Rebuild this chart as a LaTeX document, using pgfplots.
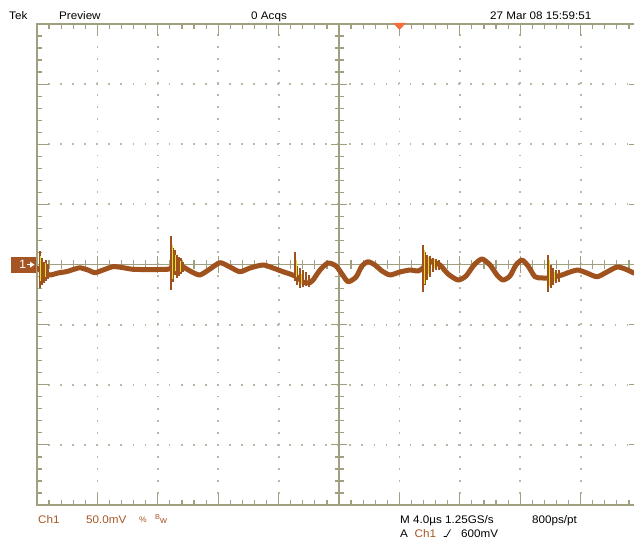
\documentclass[border=0pt]{standalone}
\usepackage{fontspec}
\setmainfont{Liberation Sans}[FakeStretch=1.06]
\usepackage{pgfplots}
\pgfplotsset{compat=1.18}
\definecolor{gridc}{RGB}{160,160,128}
\definecolor{dotc}{RGB}{185,185,165}
\definecolor{trace}{RGB}{160,82,30}
\definecolor{chbrown}{RGB}{165,85,35}
\definecolor{yel}{RGB}{225,225,40}
\definecolor{trig}{RGB}{245,110,60}
\newcommand{\scopefont}{\fontsize{11}{13}\selectfont}
\begin{document}
\begin{tikzpicture}[x=1pt,y=1pt]
\path[use as bounding box] (0,0) rectangle (634,552);
% frame + dotted grid
\begin{axis}[at={(37pt,47pt)}, anchor=south west, width=604pt, height=481pt, scale only axis,
  xmin=-20, xmax=20, ymin=-200, ymax=200,
  xtick distance=4, ytick distance=50, minor x tick num=4, minor y tick num=4,
  xticklabels={}, yticklabels={}, tick pos=both, tick align=inside,
  major tick length=12pt, minor tick length=5pt,
  tick style={gridc, line width=1.2pt},
  axis line style={gridc, line width=1.2pt},
  grid=major, major grid style={dotc, line width=1.8pt, dash pattern=on 1.8pt off 10.25pt, dash phase=0.9pt}]
\end{axis}
% centre cross + trace
\begin{axis}[at={(37pt,47pt)}, anchor=south west, width=604pt, height=481pt, scale only axis,
  axis lines=middle, xmin=-20, xmax=20, ymin=-200, ymax=200,
  xtick distance=4, ytick distance=50, minor x tick num=4, minor y tick num=4,
  xticklabels={}, yticklabels={}, tick align=center,
  major tick length=16pt, minor tick length=9pt,
  tick style={gridc, line width=1.2pt},
  axis line style={-, gridc, line width=1.2pt},
  unbounded coords=jump]
\addplot[trace, line width=5pt, smooth, tension=0.4, line join=round, line cap=round] coordinates {
(-20.00,-2.9) (-19.80,-4.6) (-19.54,-6.2) (-19.14,-8.7) (-18.61,-7.1) (-18.01,-5.8) (-17.48,-3.7) (-17.15,-2.7) (-16.62,-4.6) (-16.16,-6.8) (-15.63,-4.6) (-14.97,-1.8) (-14.37,-2.5) (-13.64,-4.0) (-12.52,-4.2) (-11.39,-4.0) (-11.13,-2.9) (-10.86,2.1) (-10.53,-0.4) (-10.20,-2.9) (-9.74,-6.2) (-9.21,-8.7) (-8.54,-3.7) (-7.88,1.5) (-7.22,-2.1) (-6.56,-6.0) (-5.89,-2.9) (-5.03,-0.4) (-4.37,-2.9) (-3.71,-6.0) (-3.25,-7.9) (-2.78,-10.4) (-2.38,-14.6) (-1.99,-15.4) (-1.72,-12.9) (-1.26,-4.6) (-0.73,1.2) (-0.20,-1.2) (0.20,-7.9) (0.60,-14.3) (1.13,-10.4) (1.52,-1.2) (1.92,2.3) (2.38,-0.4) (2.85,-5.4) (3.38,-8.7) (4.04,-6.2) (4.70,-4.6) (5.23,-5.4) (5.56,-2.9) (5.89,2.9) (6.23,2.1) (6.69,-0.4) (7.22,-7.9) (7.88,-12.9) (8.41,-9.6) (8.94,-0.4) (9.47,4.6) (10.00,-0.4) (10.46,-8.7) (10.86,-12.9) (11.32,-9.6) (11.72,-0.4) (12.12,3.7) (12.52,-1.2) (12.98,-10.2) (13.44,-11.2) (13.84,-11.2) (14.30,-10.2) (14.77,-8.7) (15.30,-6.2) (15.83,-4.6) (16.42,-7.1) (17.09,-10.2) (17.75,-6.2) (18.41,-2.1) (18.94,-3.7) (19.54,-7.1) (20.00,-8.7)};
\addplot[trace, line width=1.6pt] coordinates {
(-19.80,11.2)(-19.80,-19.6)(-19.80,nan)
(-19.67,5.4)(-19.67,-17.1)(-19.67,nan)
(-19.54,2.1)(-19.54,-15.4)(-19.54,nan)
(-19.40,3.7)(-19.40,-13.7)(-19.40,nan)
(-19.27,0.4)(-19.27,-12.1)(-19.27,nan)
(-11.13,23.7)(-11.13,-21.2)(-11.13,nan)
(-10.99,13.7)(-10.99,-14.6)(-10.99,nan)
(-10.86,12.1)(-10.86,-8.7)(-10.86,nan)
(-10.73,7.9)(-10.73,-11.2)(-10.73,nan)
(-10.60,6.2)(-10.60,-9.6)(-10.60,nan)
(-10.46,5.4)(-10.46,-7.9)(-10.46,nan)
(-10.33,2.1)(-10.33,-6.2)(-10.33,nan)
(-2.91,10.4)(-2.91,-13.7)(-2.91,nan)
(-2.78,-1.2)(-2.78,-17.1)(-2.78,nan)
(-2.58,-2.9)(-2.58,-19.6)(-2.58,nan)
(-2.38,-4.6)(-2.38,-18.7)(-2.38,nan)
(-2.19,-6.2)(-2.19,-17.9)(-2.19,nan)
(-1.99,-8.7)(-1.99,-18.7)(-1.99,nan)
(5.56,16.2)(5.56,-22.9)(5.56,nan)
(5.70,10.4)(5.70,-17.1)(5.70,nan)
(5.83,7.9)(5.83,-12.9)(5.83,nan)
(6.03,7.1)(6.03,-10.4)(6.03,nan)
(6.23,5.4)(6.23,-6.2)(6.23,nan)
(6.42,4.6)(6.42,-4.6)(6.42,nan)
(6.62,3.7)(6.62,-4.6)(6.62,nan)
(13.84,7.9)(13.84,-22.9)(13.84,nan)
(14.04,-0.4)(14.04,-19.6)(14.04,nan)
(14.17,-2.9)(14.17,-17.1)(14.17,nan)
(14.37,-4.6)(14.37,-15.4)(14.37,nan)
(14.57,-4.6)(14.57,-14.6)};
\addplot[yel, line width=0.9pt] coordinates {
(-19.74,7.0)(-19.74,-14.0)(-19.74,nan)
(-19.47,1.0)(-19.47,-10.0)(-19.47,nan)
(-11.06,16.0)(-11.06,-12.0)(-11.06,nan)
(-10.80,8.0)(-10.80,-5.0)(-10.80,nan)
(-10.53,3.0)(-10.53,-6.0)(-10.53,nan)
(-2.85,4.0)(-2.85,-10.0)(-2.85,nan)
(-2.48,-8.0)(-2.48,-16.0)(-2.48,nan)
(5.63,12.0)(5.63,-16.0)(5.63,nan)
(5.93,6.0)(5.93,-8.0)(5.93,nan)
(6.33,4.0)(6.33,-3.0)(6.33,nan)
(13.91,4.0)(13.91,-18.0)(13.91,nan)
(14.27,-6.0)(14.27,-14.0)};
\end{axis}
% trigger marker
\fill[trig] (393,529) -- (406,529) -- (399.5,522) -- cycle;
% channel marker
\fill[chbrown] (11,279) rectangle (36,295);
\node[white, anchor=base west, inner sep=0pt, font=\fontsize{12}{12}\selectfont] at (19,283) {1};
\draw[white, line width=1.3pt] (26.5,287.3) -- (31,287.3);
\fill[white] (30,284.3) -- (34.5,287.3) -- (30,290.3) -- cycle;
% top texts
\begin{scope}[every node/.style={anchor=base west, inner sep=0pt, font=\scopefont}]
\node at (9,532.5) {Tek};
\node at (59,532.5) {Preview};
\node at (251,532.5) {0 Acqs};
\node at (490,532.5) {27 Mar 08 15:59:51};
% bottom texts
\node[text=chbrown] at (38,29) {Ch1};
\node[text=chbrown] at (86,29) {50.0mV};
\node[text=chbrown, font=\fontsize{8}{8}\selectfont] at (139,30) {\%};
\node[text=chbrown, font=\fontsize{7}{7}\selectfont] at (155,33) {B};
\node[text=chbrown, font=\fontsize{9}{9}\selectfont] at (160,29) {w};
\node at (400,29) {M 4.0µs 1.25GS/s};
\node at (532,29) {800ps/pt};
\node at (400,15) {A};
\node[text=chbrown] at (414.5,15) {Ch1};
\node at (461,15) {600mV};
\end{scope}
\draw[black, line width=0.7pt] (443.5,15.5) -- (446.5,15.5) -- (450.5,22.5);
\end{tikzpicture}
\end{document}
